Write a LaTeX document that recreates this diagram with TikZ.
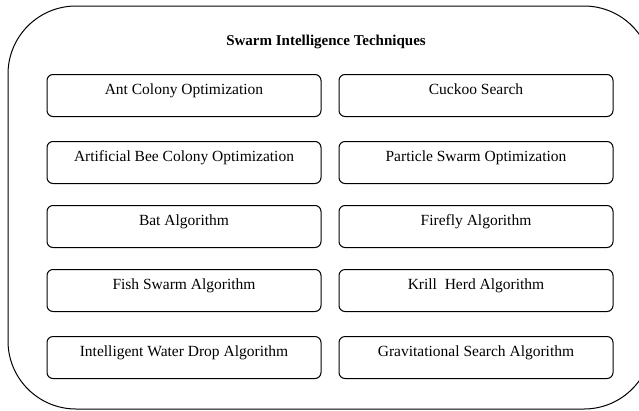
\documentclass[tikz,border=0pt]{standalone}
\usepackage{fontspec}
\setmainfont{Liberation Serif}
\usepackage{tikz}
\usetikzlibrary{positioning}

\tikzset{
  algbox/.style={draw, line width=1pt, rounded corners=6pt, minimum width=274pt,
    inner sep=0pt, text height=19.5pt, text depth=22.5pt, anchor=north,
    font=\fontsize{15.5}{16}\selectfont},
}

\begin{document}
\begin{tikzpicture}[x=1pt,y=-1pt]
\useasboundingbox (0,0) rectangle (639,410);
\clip (0,0) rectangle (639,410);

\draw[line width=1pt, rounded corners=68pt] (8,6) rectangle (652,409);
\node[font=\bfseries\fontsize{15}{16}\selectfont] (title) at (326,42) {Swarm Intelligence Techniques};

% left column
\node[algbox] (aco) at (184,74) {Ant Colony Optimization};
\node[algbox] (abc) at (184,141) {Artificial Bee Colony Optimization};
\node[algbox] (bat) at (184,205) {Bat Algorithm};
\node[algbox] (fsa) at (184,269) {Fish Swarm Algorithm};
\node[algbox] (iwd) at (184,336) {Intelligent Water Drop Algorithm};

% right column
\node[algbox] (cs) at (476,74) {Cuckoo Search};
\node[algbox] (pso) at (476,141) {Particle Swarm Optimization};
\node[algbox] (ffa) at (476,205) {Firefly Algorithm};
\node[algbox] (kha) at (476,269) {Krill\ \ Herd Algorithm};
\node[algbox] (gsa) at (476,336) {Gravitational Search Algorithm};

\end{tikzpicture}
\end{document}
